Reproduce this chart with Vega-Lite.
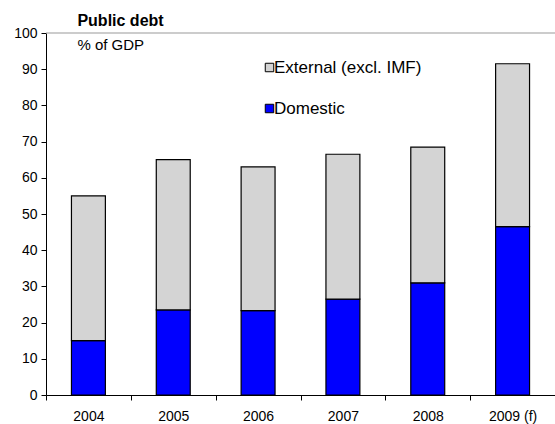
{
  "$schema": "https://vega.github.io/schema/vega-lite/v6.json",
  "autosize": "none",
  "width": 509,
  "height": 362,
  "padding": {"left": 46, "top": 33, "right": 0, "bottom": 29},
  "background": "white",
  "config": {
    "font": "Liberation Sans",
    "view": {"stroke": null},
    "axis": {"labelFont": "Liberation Sans", "labelColor": "black", "domainColor": "black", "tickColor": "black", "grid": false, "title": null, "labelFontSize": 14, "tickSize": 5, "domainWidth": 1, "tickWidth": 1, "labelOverlap": false}
  },
  "data": {"values": [
    {"year": "2004", "component": "Domestic", "value": 15},
    {"year": "2004", "component": "External (excl. IMF)", "value": 40},
    {"year": "2005", "component": "Domestic", "value": 23.5},
    {"year": "2005", "component": "External (excl. IMF)", "value": 41.5},
    {"year": "2006", "component": "Domestic", "value": 23.3},
    {"year": "2006", "component": "External (excl. IMF)", "value": 39.7},
    {"year": "2007", "component": "Domestic", "value": 26.5},
    {"year": "2007", "component": "External (excl. IMF)", "value": 40},
    {"year": "2008", "component": "Domestic", "value": 31},
    {"year": "2008", "component": "External (excl. IMF)", "value": 37.5},
    {"year": "2009 (f)", "component": "Domestic", "value": 46.5},
    {"year": "2009 (f)", "component": "External (excl. IMF)", "value": 45}
  ]},
  "layer": [
    {
      "mark": {"type": "bar", "width": {"band": 0.4}, "stroke": "black", "strokeWidth": 1.2},
      "encoding": {
        "x": {"field": "year", "type": "nominal", "sort": null, "scale": {"paddingInner": 0, "paddingOuter": 0},
              "axis": {"labelAngle": 0, "tickBand": "extent", "labelPadding": 9}},
        "y": {"field": "value", "type": "quantitative", "stack": "zero", "scale": {"domain": [0, 100], "nice": false},
              "axis": {"values": [0, 10, 20, 30, 40, 50, 60, 70, 80, 90, 100], "labelPadding": 4, "labelOverlap": false}},
        "order": {"field": "component", "type": "nominal", "sort": "ascending"},
        "color": {"field": "component", "type": "nominal",
                  "scale": {"domain": ["External (excl. IMF)", "Domestic"], "range": ["#d4d4d4", "#0000ff"]},
                  "legend": {"orient": "none", "legendX": 215, "legendY": 26, "title": null, "symbolType": "square", "symbolSize": 72,
                             "symbolStrokeColor": "black", "symbolStrokeWidth": 1, "labelFontSize": 17, "labelFont": "Liberation Sans",
                             "labelColor": "black", "rowPadding": 23, "labelOffset": -4}}
      }
    },
    {
      "data": {"values": [{"level": 100}]},
      "mark": {"type": "rule", "color": "#999999", "strokeWidth": 1},
      "encoding": {"y": {"field": "level", "type": "quantitative", "axis": {"values": [0, 10, 20, 30, 40, 50, 60, 70, 80, 90, 100], "labelPadding": 4, "labelOverlap": false}}}
    },
    {
      "data": {"values": [{"label": "% of GDP", "year": "2004", "level": 95.3}]},
      "mark": {"type": "text", "align": "left", "baseline": "alphabetic", "fontSize": 15, "fontWeight": "normal", "dx": -11, "font": "Liberation Sans", "color": "black"},
      "encoding": {"text": {"field": "label"}, "x": {"field": "year", "type": "nominal", "sort": null}, "y": {"field": "level", "type": "quantitative", "axis": {"values": [0, 10, 20, 30, 40, 50, 60, 70, 80, 90, 100], "labelPadding": 4, "labelOverlap": false}}}
    },
    {
      "data": {"values": [{"label": "Public debt", "year": "2004", "level": 100}]},
      "mark": {"type": "text", "align": "left", "baseline": "alphabetic", "fontSize": 16, "fontWeight": "bold", "dx": -11, "dy": -7, "font": "Liberation Sans", "color": "black"},
      "encoding": {"text": {"field": "label"}, "x": {"field": "year", "type": "nominal", "sort": null}, "y": {"field": "level", "type": "quantitative", "axis": {"values": [0, 10, 20, 30, 40, 50, 60, 70, 80, 90, 100], "labelPadding": 4, "labelOverlap": false}}}
    }
  ]
}
